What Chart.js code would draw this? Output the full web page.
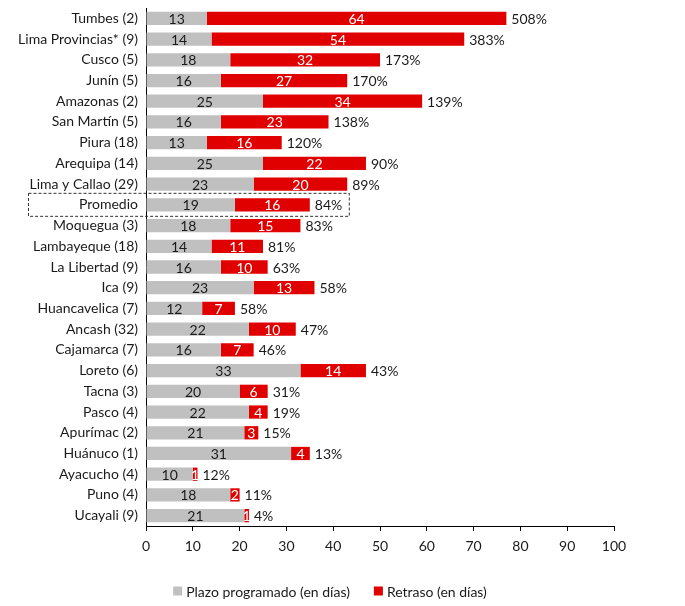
<!DOCTYPE html>
<html>
<head>
<meta charset="utf-8">
<script src="https://cdn.jsdelivr.net/npm/chart.js@4/dist/chart.umd.min.js"></script>
<style>
  html, body { margin: 0; padding: 0; background: #fff; }
  #wrap { width: 685px; height: 606px; }
</style>
</head>
<body>
<div id="wrap"><canvas id="grafico"></canvas></div>
<script>
const regiones = ['Tumbes (2)', 'Lima Provincias* (9)', 'Cusco (5)', 'Junín (5)', 'Amazonas (2)',
  'San Martín (5)', 'Piura (18)', 'Arequipa (14)', 'Lima y Callao (29)', 'Promedio',
  'Moquegua (3)', 'Lambayeque (18)', 'La Libertad (9)', 'Ica (9)', 'Huancavelica (7)',
  'Ancash (32)', 'Cajamarca (7)', 'Loreto (6)', 'Tacna (3)', 'Pasco (4)',
  'Apurímac (2)', 'Huánuco (1)', 'Ayacucho (4)', 'Puno (4)', 'Ucayali (9)'];
const plazo = [13, 14, 18, 16, 25, 16, 13, 25, 23, 19, 18, 14, 16, 23, 12, 22, 16, 33, 20, 22, 21, 31, 10, 18, 21];
const retraso = [64, 54, 32, 27, 34, 23, 16, 22, 20, 16, 15, 11, 10, 13, 7, 10, 7, 14, 6, 4, 3, 4, 1, 2, 1];
const porcentaje = ['508%', '383%', '173%', '170%', '139%', '138%', '120%', '90%', '89%', '84%',
  '83%', '81%', '63%', '58%', '58%', '47%', '46%', '43%', '31%', '19%', '15%', '13%', '12%', '11%', '4%'];

const fuente = 'Lato, "Open Sans", sans-serif';

// etiquetas dentro de las barras, porcentaje al final, recuadro del promedio y leyenda
const etiquetas = {
  id: 'etiquetas',
  afterDatasetsDraw(chart) {
    const ctx = chart.ctx;
    const x = chart.scales.x, y = chart.scales.y;
    ctx.save();
    ctx.font = '14px ' + fuente;
    ctx.textBaseline = 'middle';
    chart.data.datasets.forEach((ds, i) => {
      chart.getDatasetMeta(i).data.forEach((bar, j) => {
        const cx = (bar.x + bar.base) / 2;
        ctx.textAlign = 'center';
        ctx.fillStyle = i === 0 ? '#1a1a1a' : '#ffffff';
        ctx.fillText(ds.data[j], cx, bar.y + 1);
      });
    });
    ctx.textAlign = 'left';
    ctx.fillStyle = '#1a1a1a';
    regiones.forEach((r, j) => {
      const fin = x.getPixelForValue(plazo[j] + retraso[j]);
      ctx.fillText(porcentaje[j], fin + 5, y.getPixelForValue(j) + 1);
    });
    // recuadro punteado del promedio
    const k = regiones.indexOf('Promedio');
    const py = y.getPixelForValue(k);
    const der = x.getPixelForValue(plazo[k] + retraso[k]) + 40;
    ctx.setLineDash([3, 2]);
    ctx.strokeStyle = '#333';
    ctx.lineWidth = 1;
    ctx.strokeRect(chart.chartArea.left - 117.5, py - 11.5, der - chart.chartArea.left + 117, 23);
    ctx.restore();
  },
  afterDraw(chart) {
    // leyenda abajo, centrada en x=330
    const ctx = chart.ctx;
    const ds = chart.data.datasets;
    ctx.save();
    ctx.font = '14px ' + fuente;
    ctx.textBaseline = 'middle';
    ctx.textAlign = 'left';
    const caja = 9, sep = 4, hueco = 24;
    const anchos = ds.map(d => caja + sep + ctx.measureText(d.label).width);
    const total = anchos.reduce((a, b) => a + b, 0) + hueco;
    let lx = 330 - total / 2;
    const ly = 591;
    ds.forEach((d, i) => {
      ctx.fillStyle = d.backgroundColor;
      ctx.fillRect(lx, ly - caja / 2, caja, caja);
      ctx.fillStyle = '#1a1a1a';
      ctx.fillText(d.label, lx + caja + sep, ly + 1);
      lx += anchos[i] + hueco;
    });
    ctx.restore();
  }
};

new Chart(document.getElementById('grafico'), {
  type: 'bar',
  data: {
    labels: regiones,
    datasets: [{
      label: 'Plazo programado (en días)',
      data: plazo,
      backgroundColor: '#C0C0C0',
      barPercentage: 0.64,
      categoryPercentage: 1
    }, {
      label: 'Retraso (en días)',
      data: retraso,
      backgroundColor: '#E00000',
      barPercentage: 0.64,
      categoryPercentage: 1
    }]
  },
  options: {
    indexAxis: 'y',
    responsive: true,
    maintainAspectRatio: false,
    animation: false,
    layout: { padding: { top: 8, right: 71, bottom: 45, left: 0 } },
    scales: {
      x: {
        stacked: true,
        min: 0,
        max: 100,
        ticks: { stepSize: 10, color: '#1a1a1a', font: { family: fuente, size: 14 }, padding: 7 },
        grid: { drawOnChartArea: false, drawTicks: true, tickLength: 5, color: '#000' },
        border: { display: true, color: '#000', width: 1 },
        afterFit(scale) { scale.height = 35; scale.paddingLeft = 0; scale.paddingRight = 0; }
      },
      y: {
        stacked: true,
        ticks: { color: '#1a1a1a', font: { family: fuente, size: 14 }, padding: 8 },
        grid: { drawOnChartArea: false, drawTicks: false },
        border: { display: true, color: '#000', width: 1 },
        afterFit(scale) { scale.width = 146; scale.paddingTop = 0; scale.paddingBottom = 0; }
      }
    },
    plugins: {
      legend: { display: false },
      tooltip: { enabled: false }
    }
  },
  plugins: [etiquetas]
});
</script>
</body>
</html>
